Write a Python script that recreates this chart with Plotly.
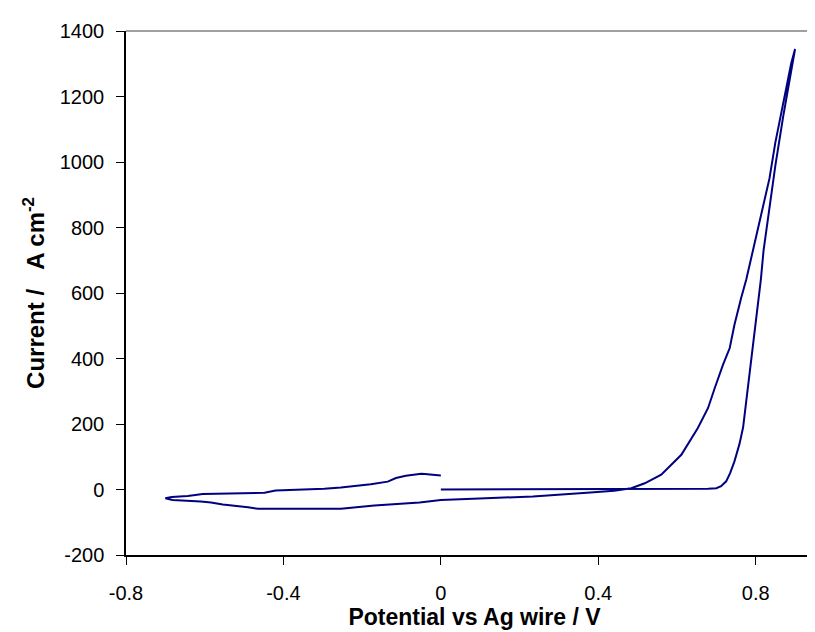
import plotly.graph_objects as go

# Cyclic voltammogram: forward scan 0 -> 0.9 V, reverse to -0.7 V, forward back to 0 V
potential_fwd1 = [0.0, 0.30, 0.60, 0.679, 0.700, 0.712, 0.725, 0.735, 0.746, 0.759, 0.768,
                  0.773, 0.786, 0.798, 0.807, 0.813, 0.820, 0.832, 0.850, 0.870, 0.890, 0.900]
current_fwd1 = [0, 0, 0, 2, 4, 10, 25, 50, 86, 140, 190,
                240, 371, 483, 575, 640, 730, 840, 990, 1140, 1280, 1345]

potential_rev = [0.890, 0.870, 0.850, 0.835, 0.818, 0.801, 0.788, 0.776, 0.763, 0.746, 0.734,
                 0.717, 0.696, 0.679, 0.653, 0.611, 0.560, 0.518, 0.484, 0.458, 0.440, 0.380,
                 0.348, 0.280, 0.234, 0.114, 0.000, -0.054, -0.135, -0.169, -0.254, -0.465,
                 -0.490, -0.524, -0.554, -0.584, -0.610, -0.682, -0.700]
current_rev = [1300, 1180, 1060, 950, 860, 768, 707, 641, 585, 503, 432,
               381, 310, 249, 188, 106, 45, 19, 4, 0, -4, -9,
               -12, -17, -21, -27, -32, -40, -45, -49, -59, -59,
               -54, -50, -46, -40, -37, -32, -27, -23]

potential_fwd2 = [-0.684, -0.643, -0.605, -0.448, -0.420, -0.296, -0.254, -0.216, -0.178,
                  -0.135, -0.114, -0.089, -0.050, -0.041, 0.0]
current_fwd2 = [-20, -14, -10, -3, 2, 6, 11, 16, 24, 35, 42, 48, 47, 43, 43]

x_ticks = [-0.8, -0.4, 0, 0.4, 0.8]
x_ticklabels = ["-0.8", "-0.4", "0", "0.4", "0.8"]
y_ticks = [-200, 0, 200, 400, 600, 800, 1000, 1200, 1400]
y_ticklabels = ["-200", "0", "200", "400", "600", "800", "1000", "1200", "1400"]

x = potential_fwd1 + potential_rev + potential_fwd2
y = current_fwd1 + current_rev + current_fwd2

fig = go.Figure()
fig.add_trace(go.Scatter(x=x, y=y, mode="lines",
                         line=dict(color="#000080", width=2), showlegend=False))

font = "Liberation Sans, Arial, sans-serif"
fig.update_layout(
    width=815, height=632,
    margin=dict(l=118, r=0, t=23, b=85),
    paper_bgcolor="white", plot_bgcolor="white",
    font=dict(family=font, size=20, color="black"),
    xaxis=dict(range=[-0.8, 0.971], tickvals=x_ticks, ticktext=x_ticklabels,
               showgrid=False, zeroline=False, showline=True, linecolor="black",
               linewidth=1.5, ticks="outside", ticklen=8, tickcolor="black",
               ticklabelstandoff=11,
               title=dict(text="<b>Potential vs Ag wire / V</b>", font=dict(size=23),
                          standoff=4)),
    yaxis=dict(range=[-200, 1400], tickvals=y_ticks, ticktext=y_ticklabels,
               showgrid=False, zeroline=False, showline=True, linecolor="black",
               linewidth=1.5, ticks="outside", ticklen=8, tickcolor="black",
               ticklabelstandoff=8,
               title=dict(text="<b>Current /   A cm<sup>-2</sup></b>", font=dict(size=24),
                          standoff=8)),
    shapes=[dict(type="line", xref="paper", yref="paper", x0=0, x1=1, y0=1, y1=1,
                 line=dict(color="#808080", width=1.5))],
)

fig.write_html("out.html")
